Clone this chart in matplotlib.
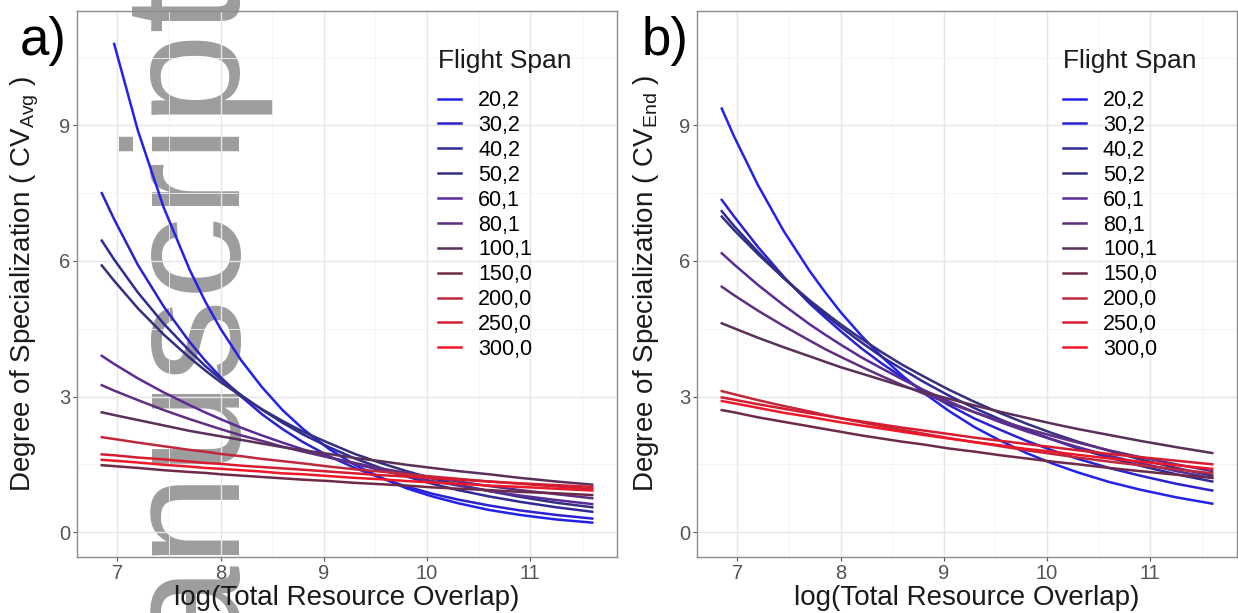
import matplotlib
matplotlib.use("Agg")
import matplotlib.pyplot as plt

# x positions (log total resource overlap) at which the fitted curves were read
x_overlap = [6.85, 6.97, 7.2, 7.45, 7.7, 7.85, 8.0, 8.2, 8.4, 8.6, 8.8,
             9.05, 9.3, 9.55, 9.8, 10.05, 10.3, 10.6, 10.9, 11.25, 11.6]

spans = ["20,2", "30,2", "40,2", "50,2", "60,1", "80,1",
         "100,1", "150,0", "200,0", "250,0", "300,0"]
span_colors = ["#2222ee", "#2a22d2", "#2f2a96", "#33307f", "#5a2c98", "#602f82",
               "#5a2f58", "#6e2a48", "#c0283c", "#d81c30", "#f01828"]

nan = float("nan")
# panel a: CV_Avg
cv_avg = [
    [nan, 10.8, 8.88, 7.18, 5.81, 5.11, 4.50, 3.80, 3.21, 2.70, 2.28, 1.84, 1.49, 1.21, 0.97, 0.79, 0.64, 0.49, 0.38, 0.28, 0.21],
    [7.5, 6.92, 5.91, 4.99, 4.21, 3.80, 3.43, 3.00, 2.61, 2.28, 1.99, 1.68, 1.42, 1.20, 1.01, 0.85, 0.72, 0.59, 0.48, 0.38, 0.30],
    [6.45, 6.03, 5.30, 4.61, 4.01, 3.68, 3.39, 3.03, 2.71, 2.42, 2.16, 1.88, 1.63, 1.42, 1.23, 1.07, 0.93, 0.79, 0.67, 0.55, 0.45],
    [5.9, 5.56, 4.95, 4.37, 3.86, 3.58, 3.32, 3.01, 2.72, 2.46, 2.22, 1.97, 1.73, 1.53, 1.35, 1.19, 1.05, 0.91, 0.78, 0.65, 0.55],
    [3.9, 3.72, 3.40, 3.09, 2.81, 2.65, 2.50, 2.31, 2.14, 1.98, 1.83, 1.66, 1.51, 1.37, 1.24, 1.13, 1.03, 0.91, 0.81, 0.71, 0.62],
    [3.25, 3.13, 2.92, 2.70, 2.50, 2.39, 2.28, 2.14, 2.02, 1.89, 1.78, 1.65, 1.53, 1.41, 1.31, 1.21, 1.12, 1.02, 0.93, 0.84, 0.75],
    [2.65, 2.59, 2.48, 2.36, 2.24, 2.18, 2.12, 2.04, 1.96, 1.88, 1.81, 1.73, 1.64, 1.57, 1.49, 1.42, 1.35, 1.28, 1.20, 1.12, 1.05],
    [1.48, 1.46, 1.42, 1.37, 1.33, 1.31, 1.28, 1.25, 1.22, 1.19, 1.16, 1.13, 1.09, 1.06, 1.03, 0.99, 0.96, 0.93, 0.89, 0.86, 0.82],
    [2.1, 2.06, 1.98, 1.90, 1.82, 1.78, 1.73, 1.68, 1.62, 1.57, 1.52, 1.45, 1.39, 1.34, 1.28, 1.23, 1.18, 1.12, 1.07, 1.01, 0.95],
    [1.72, 1.70, 1.65, 1.61, 1.56, 1.53, 1.51, 1.47, 1.44, 1.41, 1.38, 1.34, 1.30, 1.26, 1.23, 1.19, 1.16, 1.12, 1.08, 1.04, 1.0],
    [1.6, 1.58, 1.54, 1.49, 1.45, 1.42, 1.40, 1.37, 1.34, 1.30, 1.28, 1.24, 1.20, 1.17, 1.13, 1.10, 1.07, 1.03, 1.00, 0.96, 0.92],
]
# panel b: CV_End
cv_end = [
    [9.37, 8.75, 7.68, 6.66, 5.78, 5.31, 4.87, 4.35, 3.88, 3.46, 3.09, 2.68, 2.32, 2.02, 1.75, 1.52, 1.32, 1.11, 0.94, 0.77, 0.63],
    [7.35, 6.98, 6.31, 5.65, 5.06, 4.75, 4.45, 4.07, 3.73, 3.42, 3.13, 2.81, 2.51, 2.26, 2.02, 1.81, 1.62, 1.42, 1.25, 1.07, 0.92],
    [7.1, 6.77, 6.20, 5.62, 5.10, 4.81, 4.54, 4.20, 3.88, 3.60, 3.33, 3.02, 2.74, 2.49, 2.26, 2.05, 1.85, 1.65, 1.47, 1.28, 1.12],
    [6.98, 6.68, 6.15, 5.62, 5.13, 4.86, 4.60, 4.28, 3.98, 3.70, 3.45, 3.15, 2.88, 2.63, 2.40, 2.19, 2.00, 1.80, 1.61, 1.42, 1.25],
    [6.17, 5.92, 5.47, 5.02, 4.60, 4.37, 4.15, 3.87, 3.62, 3.38, 3.15, 2.89, 2.65, 2.43, 2.23, 2.05, 1.88, 1.69, 1.53, 1.35, 1.2],
    [5.43, 5.24, 4.90, 4.56, 4.24, 4.05, 3.88, 3.66, 3.45, 3.25, 3.07, 2.85, 2.65, 2.46, 2.29, 2.13, 1.98, 1.81, 1.66, 1.50, 1.35],
    [4.62, 4.51, 4.30, 4.09, 3.89, 3.77, 3.65, 3.51, 3.37, 3.23, 3.10, 2.95, 2.80, 2.66, 2.53, 2.40, 2.28, 2.15, 2.02, 1.88, 1.75],
    [2.7, 2.65, 2.54, 2.44, 2.34, 2.28, 2.22, 2.14, 2.07, 2.00, 1.94, 1.85, 1.78, 1.70, 1.63, 1.56, 1.50, 1.42, 1.35, 1.27, 1.2],
    [3.12, 3.05, 2.92, 2.79, 2.67, 2.59, 2.52, 2.43, 2.34, 2.26, 2.18, 2.08, 1.99, 1.90, 1.81, 1.73, 1.65, 1.56, 1.48, 1.39, 1.3],
    [2.98, 2.93, 2.83, 2.73, 2.63, 2.58, 2.52, 2.45, 2.38, 2.31, 2.25, 2.17, 2.09, 2.02, 1.95, 1.88, 1.81, 1.73, 1.66, 1.58, 1.5],
    [2.9, 2.85, 2.75, 2.64, 2.55, 2.49, 2.43, 2.36, 2.29, 2.22, 2.15, 2.07, 1.99, 1.92, 1.84, 1.78, 1.71, 1.63, 1.56, 1.48, 1.4],
]

x_ticks = [7, 8, 9, 10, 11]
y_ticks = [0, 3, 6, 9]

plt.rcParams['font.family'] = ['Liberation Sans', 'DejaVu Sans']
plt.rcParams['mathtext.fontset'] = 'custom'
plt.rcParams['mathtext.rm'] = 'Liberation Sans'

fig = plt.figure(figsize=(12.38, 6.13), dpi=100)

# watermark behind the panels
fig.text(0.2125, 1.041, "manuscript", rotation=90, ha="right", va="top",
         fontsize=119, color="#9d9d9d", zorder=-1)


def draw_panel(ax, values, ylabel, leg_x):
    ax.set_facecolor("none")
    for lab, col, ys in zip(spans, span_colors, values):
        ax.plot(x_overlap, ys, color=col, lw=1.8, label=lab)
    ax.set_xlim(6.61, 11.84)
    ax.set_ylim(-0.55, 11.53)
    ax.set_xticks(x_ticks)
    ax.set_yticks(y_ticks)
    ax.set_xticks([7.5, 8.5, 9.5, 10.5, 11.5], minor=True)
    ax.set_yticks([1.5, 4.5, 7.5, 10.5], minor=True)
    ax.grid(which="major", color="#e6e6e6", lw=1.0)
    ax.grid(which="minor", color="#f2f2f2", lw=0.6)
    ax.set_axisbelow(True)
    for s in ax.spines.values():
        s.set_color("#8c8c8c")
        s.set_linewidth(1.0)
    ax.tick_params(which="major", length=3, width=0.8, color="#555555",
                   labelsize=14.5, labelcolor="#555555", pad=2)
    ax.tick_params(which="minor", length=0)
    ax.set_xlabel("log(Total Resource Overlap)", fontsize=20, color="#1a1a1a")
    ax.set_ylabel(ylabel, fontsize=20, color="#1a1a1a")
    ax.xaxis.set_label_coords(0.5, -0.052)
    ax.yaxis.set_label_coords(-0.066, 0.5)
    ax.text(leg_x, 0.8956, "Flight Span", transform=ax.transAxes, fontsize=19,
            color="#1a1a1a", ha="left", va="baseline")
    ax.legend(loc="upper left", bbox_to_anchor=(leg_x, 0.855), frameon=False,
              fontsize=15.5, handlelength=1.05, handletextpad=0.8,
              labelspacing=0.18, borderpad=0, borderaxespad=0)


ax_a = fig.add_axes([0.0622, 0.0914, 0.4362, 0.8907])
draw_panel(ax_a, cv_avg, r"Degree of Specialization ( CV$_{\mathregular{Avg}}$ )", 0.669)

ax_b = fig.add_axes([0.563, 0.0914, 0.4362, 0.8907])
draw_panel(ax_b, cv_end, r"Degree of Specialization ( CV$_{\mathregular{End}}$ )", 0.678)

fig.text(20 / 1238, 1 - 55 / 613, "a)", fontsize=38, va="baseline", ha="left")
fig.text(642 / 1238, 1 - 55 / 613, "b)", fontsize=38, va="baseline", ha="left")

fig.savefig("out.png", dpi=100, facecolor="white")
